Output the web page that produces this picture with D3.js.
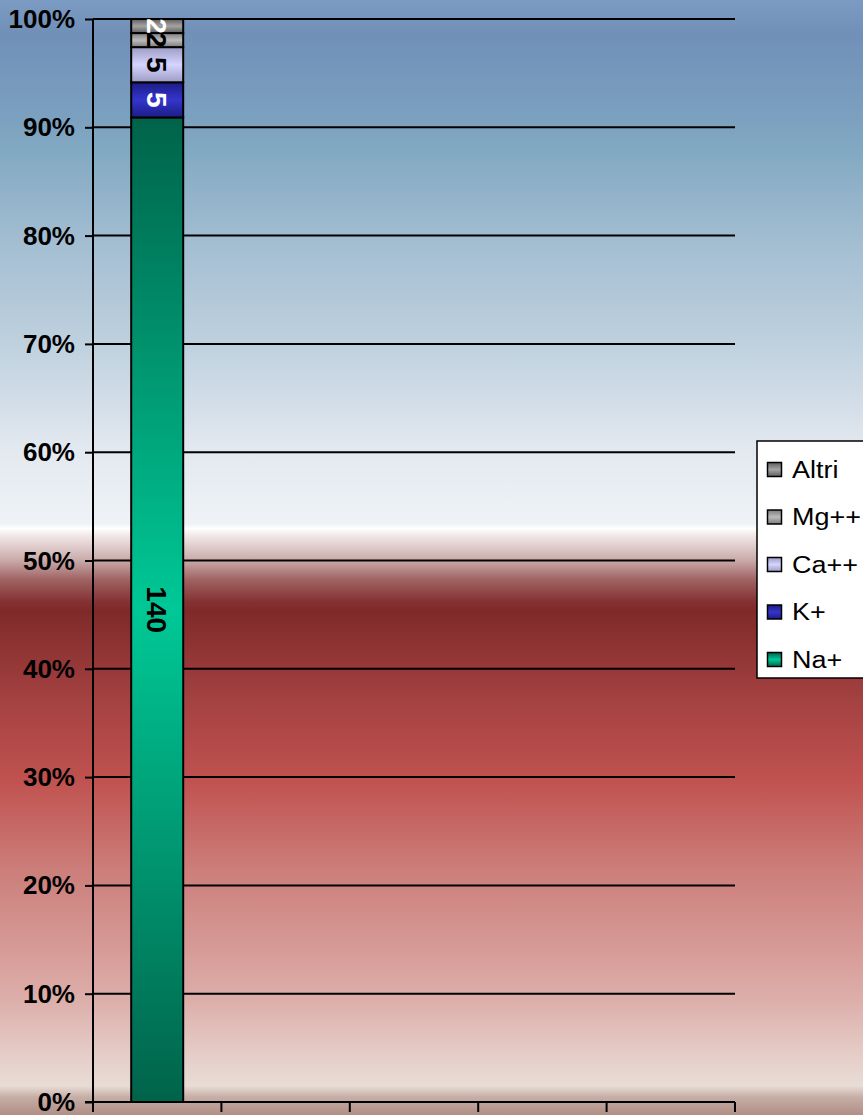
<!DOCTYPE html>
<html>
<head>
<meta charset="utf-8">
<script src="https://cdn.jsdelivr.net/npm/d3@7"></script>
<style>
  html, body { margin: 0; padding: 0; background: #fff; }
  svg { display: block; }
</style>
</head>
<body>
<svg id="chart" width="863" height="1115"></svg>
<script>
// Ion composition, 100% stacked column
const categories = ["c1", "c2", "c3", "c4", "c5"];
const seriesNames = ["Na+", "K+", "Ca++", "Mg++", "Altri"];
const naValues    = [140, 0, 0, 0, 0];
const kValues     = [5, 0, 0, 0, 0];
const caValues    = [5, 0, 0, 0, 0];
const mgValues    = [2, 0, 0, 0, 0];
const altriValues = [2, 0, 0, 0, 0];
const yTickValues = [0, 0.1, 0.2, 0.3, 0.4, 0.5, 0.6, 0.7, 0.8, 0.9, 1];

const seriesValues = [naValues, kValues, caValues, mgValues, altriValues];

// styling per series: edge colour, centre colour, label colour
const seriesStyle = {
  "Na+":   { edge: "#00634a", mid: "#00c896", label: "#000000" },
  "K+":    { edge: "#1c1c86", mid: "#3535cc", label: "#ffffff" },
  "Ca++":  { edge: "#9c9cc4", mid: "#d4d4ff", label: "#000000" },
  "Mg++":  { edge: "#7c7c7c", mid: "#bcbcbc", label: "#000000" },
  "Altri": { edge: "#5e5e5e", mid: "#a4a4a4", label: "#ffffff" }
};

const W = 863, H = 1115;
const plot = { left: 93, right: 735, top: 19, bottom: 1102 };

const svg = d3.select("#chart");
const defs = svg.append("defs");

// background: blue fading to white, then deep red fading to pale pink
const bgStops = [
  [0.000, "#7b9bc2"], [0.030, "#7190b8"], [0.100, "#7a9fbf"], [0.135, "#82a9c2"],
  [0.220, "#a4bed2"], [0.300, "#bccfdd"], [0.360, "#d2dde8"], [0.400, "#e2e8ef"],
  [0.470, "#eff3f7"], [0.474, "#ffffff"], [0.480, "#f3e9e9"], [0.503, "#c8a8a8"],
  [0.520, "#a06262"], [0.540, "#843131"], [0.548, "#7f2a2a"], [0.590, "#933636"],
  [0.630, "#a54242"], [0.700, "#c0524f"], [0.780, "#cc7e7a"], [0.850, "#d69a96"],
  [0.900, "#ddb0ac"], [0.950, "#e6cfca"], [0.974, "#e8dcd5"], [0.984, "#c6aea6"],
  [1.000, "#b08e86"]
];
const bg = defs.append("linearGradient").attr("id", "bg")
  .attr("x1", 0).attr("y1", 0).attr("x2", 0).attr("y2", 1);
bg.selectAll("stop").data(bgStops).join("stop")
  .attr("offset", d => d[0]).attr("stop-color", d => d[1]);
svg.append("rect").attr("width", W).attr("height", H).attr("fill", "url(#bg)");

// per-series vertical gradients: dark edges, light centre
seriesNames.forEach((name, i) => {
  const s = seriesStyle[name];
  const g = defs.append("linearGradient").attr("id", "grad" + i)
    .attr("x1", 0).attr("y1", 0).attr("x2", 0).attr("y2", 1);
  g.append("stop").attr("offset", 0).attr("stop-color", s.edge);
  g.append("stop").attr("offset", 0.5).attr("stop-color", s.mid);
  g.append("stop").attr("offset", 1).attr("stop-color", s.edge);
});

// scales
const padInner = 0.595;
const x = d3.scaleBand().domain(categories)
  .range([plot.left, plot.right])
  .paddingInner(padInner).paddingOuter(padInner / 2);
const y = d3.scaleLinear().domain([0, 1]).range([plot.bottom, plot.top]);

// stacked data
const table = categories.map((c, ci) => {
  const row = { cat: c };
  seriesNames.forEach((n, si) => { row[n] = seriesValues[si][ci]; });
  return row;
});
const stacked = d3.stack().keys(seriesNames).offset(d3.stackOffsetExpand)(table);

// gridlines
svg.append("g")
  .selectAll("line").data(yTickValues.filter(v => v > 0)).join("line")
  .attr("x1", plot.left).attr("x2", plot.right)
  .attr("y1", d => y(d)).attr("y2", d => y(d))
  .attr("stroke", "#000").attr("stroke-width", 2);

// y axis
const yAxis = svg.append("g").attr("transform", `translate(${plot.left},0)`)
  .call(d3.axisLeft(y).tickValues(yTickValues).tickFormat(d3.format(".0%"))
    .tickSize(8).tickPadding(10));
yAxis.select(".domain").attr("stroke", "#000").attr("stroke-width", 2)
  .attr("d", `M0,${plot.top}V${plot.bottom}`);
yAxis.selectAll(".tick line").attr("stroke", "#000").attr("stroke-width", 2);
yAxis.selectAll(".tick text")
  .attr("font-family", "'Liberation Sans', Arial, sans-serif")
  .attr("font-weight", "bold").attr("font-size", 26).attr("fill", "#000")
  .attr("dy", "0.33em");

// bars
const segs = svg.append("g");
stacked.forEach((layer, si) => {
  layer.forEach((d, ci) => {
    if (!(d[1] - d[0] > 0)) return;
    const cat = categories[ci];
    segs.append("rect")
      .attr("x", x(cat)).attr("width", x.bandwidth())
      .attr("y", y(d[1])).attr("height", y(d[0]) - y(d[1]))
      .attr("fill", `url(#grad${si})`)
      .attr("stroke", "#000").attr("stroke-width", 2);
  });
});

// data labels, rotated to read downward
const labels = svg.append("g");
stacked.forEach((layer, si) => {
  layer.forEach((d, ci) => {
    if (!(d[1] - d[0] > 0)) return;
    const cat = categories[ci];
    const cx = x(cat) + x.bandwidth() / 2;
    const cy = (y(d[0]) + y(d[1])) / 2;
    labels.append("text")
      .attr("transform", `translate(${cx},${cy}) rotate(90)`)
      .attr("text-anchor", "middle").attr("dy", "0.36em")
      .attr("font-family", "'Liberation Sans', Arial, sans-serif")
      .attr("font-weight", "bold").attr("font-size", 28)
      .attr("fill", seriesStyle[seriesNames[si]].label)
      .text(seriesValues[si][ci]);
  });
});

// x axis with boundary ticks, no labels
const step = x.step();
const boundaries = d3.range(categories.length + 1)
  .map(i => plot.left + i * step);
const xAxis = svg.append("g");
xAxis.append("line")
  .attr("x1", plot.left - 8).attr("x2", plot.right)
  .attr("y1", plot.bottom).attr("y2", plot.bottom)
  .attr("stroke", "#000").attr("stroke-width", 2);
xAxis.selectAll("line.tick").data(boundaries).join("line").attr("class", "tick")
  .attr("x1", d => d).attr("x2", d => d)
  .attr("y1", plot.bottom).attr("y2", plot.bottom + 10)
  .attr("stroke", "#000").attr("stroke-width", 2);

// legend
const legend = svg.append("g");
legend.append("rect")
  .attr("x", 757).attr("y", 441).attr("width", 130).attr("height", 237)
  .attr("fill", "#fff").attr("stroke", "#000").attr("stroke-width", 1.5);
const legendOrder = seriesNames.slice().reverse();
legendOrder.forEach((name, i) => {
  const si = seriesNames.indexOf(name);
  const cy = 469.5 + i * 47.5;
  legend.append("rect")
    .attr("x", 767.5).attr("y", cy - 7).attr("width", 14).attr("height", 14)
    .attr("fill", `url(#grad${si})`)
    .attr("stroke", "#000").attr("stroke-width", 1.5);
  legend.append("text")
    .attr("transform", `translate(792,${cy + 8}) scale(1.1,1)`)
    .attr("font-family", "'Liberation Sans', Arial, sans-serif")
    .attr("font-size", 24.5).attr("fill", "#000")
    .text(name);
});
</script>
</body>
</html>
